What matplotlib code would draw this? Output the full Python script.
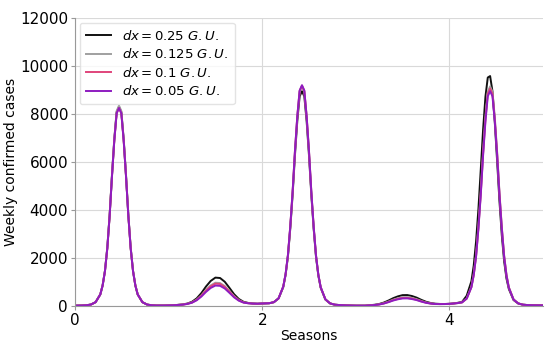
import matplotlib
matplotlib.use("Agg")
import matplotlib.pyplot as plt

seasons = [0.0, 0.07, 0.12, 0.17, 0.22, 0.27, 0.295, 0.32, 0.345, 0.37, 0.395, 0.42, 0.445, 0.47, 0.495, 0.52,
           0.545, 0.57, 0.595, 0.62, 0.645, 0.67, 0.72, 0.77, 0.82, 0.87,
           0.95, 1.05, 1.15, 1.2, 1.25, 1.3, 1.35, 1.4, 1.45, 1.5, 1.55, 1.6, 1.65, 1.7, 1.75, 1.8, 1.85, 1.9,
           1.95, 2.0,
           2.075, 2.125, 2.175, 2.225, 2.25, 2.275, 2.3, 2.325, 2.35, 2.375, 2.4, 2.425, 2.45, 2.475, 2.5,
           2.525, 2.55, 2.575, 2.6, 2.625, 2.675, 2.725, 2.775, 2.825,
           2.9, 3.0, 3.1, 3.15, 3.2, 3.25, 3.3, 3.35, 3.4, 3.45, 3.5, 3.55, 3.6, 3.65, 3.7, 3.75, 3.8, 3.85,
           3.9, 3.95, 4.0,
           4.035, 4.085, 4.135, 4.185, 4.235, 4.26, 4.285, 4.31, 4.335, 4.36, 4.385, 4.41, 4.435, 4.46,
           4.485, 4.51, 4.535, 4.56, 4.585, 4.61, 4.635, 4.685, 4.735, 4.785, 4.835, 4.9, 5.0]

cases_dx025 = [15, 20, 30, 60, 160, 480, 855, 1460, 2415, 3775, 5430, 6940, 8080, 8300, 8080, 6940, 5430, 3775,
               2415, 1460, 855, 480, 160, 60, 30, 20,
               20, 30, 65, 102, 176, 317, 537, 814, 1045, 1183, 1166, 1010, 756, 490, 293, 176, 128, 106, 95, 105,
               115, 160, 315, 790, 1300, 2070, 3230, 4640, 6290, 7710, 8735, 8950, 8735, 7690, 6270, 4620, 3210,
               2040, 1265, 760, 270, 107, 54, 38,
               25, 15, 15, 33, 51, 84, 144, 229, 327, 402, 453, 456, 416, 349, 256, 177, 125, 95, 85, 84, 90,
               105, 130, 170, 430, 1030, 1690, 2690, 4040, 5680, 7350, 8720, 9520, 9580, 8950, 7660, 6030, 4360,
               2940, 1860, 1140, 710, 250, 106, 55, 40, 30, 25]

cases_dx0125 = [15, 20, 30, 60, 160, 485, 860, 1470, 2430, 3800, 5470, 6980, 8125, 8350, 8125, 6980, 5470, 3800,
                2430, 1470, 860, 485, 160, 60, 30, 20,
                20, 30, 61, 91, 151, 266, 444, 670, 858, 971, 957, 830, 623, 407, 247, 154, 118, 102, 95, 105,
                115, 160, 320, 810, 1320, 2110, 3300, 4740, 6430, 7880, 8930, 9150, 8930, 7860, 6410, 4720, 3280,
                2090, 1290, 780, 275, 110, 55, 40,
                25, 15, 15, 29, 43, 70, 118, 185, 264, 324, 365, 366, 335, 283, 210, 149, 109, 87, 81, 82, 90,
                100, 120, 150, 315, 800, 1310, 2110, 3300, 4740, 6430, 7880, 8930, 9150, 8930, 7860, 6410, 4720,
                3280, 2090, 1290, 780, 275, 110, 55, 40, 30, 25]

cases_dx01 = [15, 20, 30, 60, 160, 480, 850, 1450, 2400, 3750, 5400, 6900, 8030, 8250, 8030, 6900, 5400, 3750,
              2400, 1450, 850, 480, 160, 60, 30, 20,
              20, 30, 60, 89, 146, 256, 427, 643, 823, 931, 918, 796, 598, 391, 239, 150, 116, 101, 95, 105,
              115, 160, 320, 810, 1325, 2120, 3320, 4760, 6460, 7900, 8960, 9180, 8960, 7880, 6440, 4740, 3300,
              2100, 1295, 780, 278, 110, 55, 40,
              25, 15, 15, 28, 41, 65, 109, 171, 243, 298, 335, 337, 308, 261, 194, 139, 104, 84, 80, 82, 90,
              100, 120, 150, 310, 790, 1300, 2090, 3260, 4680, 6350, 7780, 8840, 9060, 8840, 7780, 6350, 4670,
              3250, 2070, 1280, 770, 272, 108, 54, 39, 30, 25]

cases_dx005 = [15, 20, 30, 60, 160, 480, 850, 1450, 2400, 3750, 5400, 6900, 8030, 8250, 8030, 6900, 5400, 3750,
               2400, 1450, 850, 480, 160, 60, 30, 20,
               20, 30, 55, 84, 137, 237, 393, 589, 753, 852, 840, 729, 548, 360, 222, 142, 113, 100, 95, 105,
               115, 160, 320, 810, 1330, 2130, 3320, 4760, 6450, 7900, 8980, 9200, 8980, 7900, 6450, 4750, 3300,
               2100, 1300, 780, 280, 110, 55, 40,
               25, 15, 15, 27, 39, 62, 103, 161, 229, 280, 315, 317, 290, 246, 184, 133, 100, 82, 79, 81, 90,
               100, 120, 150, 310, 780, 1290, 2060, 3220, 4620, 6280, 7690, 8740, 8950, 8740, 7690, 6280, 4620,
               3210, 2040, 1265, 760, 272, 107, 54, 39, 30, 25]

labels = [r"$dx = 0.25\ G.U.$", r"$dx = 0.125\ G.U.$", r"$dx = 0.1\ G.U.$", r"$dx = 0.05\ G.U.$"]
colors = ["#111111", "#a0a0a0", "#e0457b", "#8e1cc0"]
series = [cases_dx025, cases_dx0125, cases_dx01, cases_dx005]

fig = plt.figure(figsize=(5.5, 3.48), dpi=100)
ax = fig.add_axes([75 / 550, 1 - 306 / 348, (543 - 75) / 550, (306 - 18) / 348])

for ys, lab, c in zip(series, labels, colors):
    ax.plot(seasons, ys, color=c, lw=1.4, label=lab)

ax.set_xlim(0, 5)
ax.set_ylim(0, 12000)
ax.set_xticks([0, 2, 4])
ax.set_yticks([0, 2000, 4000, 6000, 8000, 10000, 12000])
ax.grid(True, color="#d9d9d9", lw=0.8)
ax.set_axisbelow(True)
for s in ["top", "right"]:
    ax.spines[s].set_visible(False)
for s in ["left", "bottom"]:
    ax.spines[s].set_color("#999999")
ax.tick_params(axis="both", labelsize=11, color="#999999", length=3, pad=2)
ax.set_xlabel("Seasons", fontsize=10, labelpad=1)
ax.set_ylabel("Weekly confirmed cases", fontsize=10)
ax.yaxis.set_label_coords(-0.122, 0.5)
leg = ax.legend(loc="upper left", fontsize=9.5, frameon=True, borderpad=0.45, handlelength=1.9,
                labelspacing=0.35, borderaxespad=0.35, handletextpad=0.9)
leg.get_frame().set_edgecolor("#dddddd")

fig.savefig("out.png", dpi=100)
